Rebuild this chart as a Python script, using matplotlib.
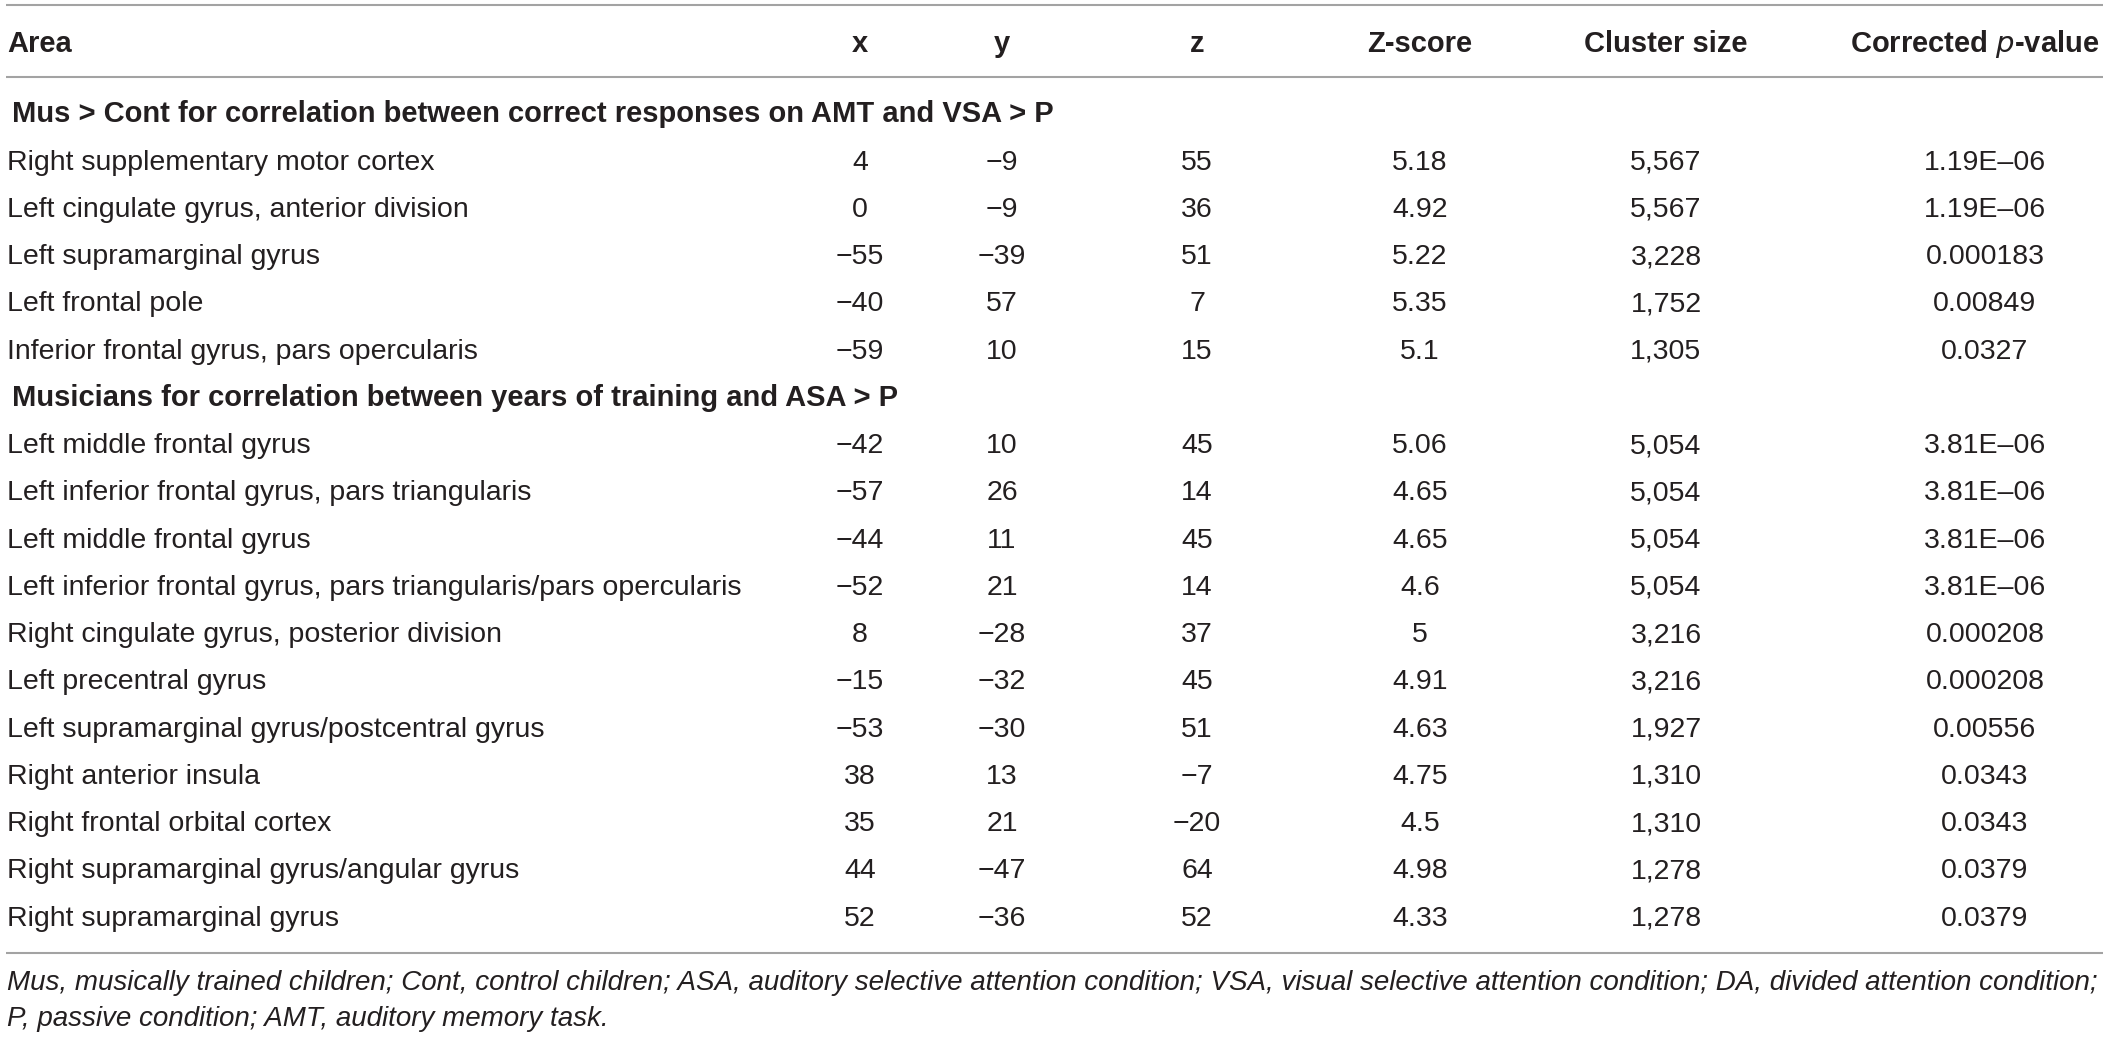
import matplotlib
matplotlib.use('Agg')
import matplotlib.pyplot as plt

# Table contents
columns = ['Area', 'x', 'y', 'z', 'Z-score', 'Cluster size', 'Corrected $\\it{p}$-value']

section_titles = [
    'Mus > Cont for correlation between correct responses on AMT and VSA > P',
    'Musicians for correlation between years of training and ASA > P',
]

areas_1 = [
    'Right supplementary motor cortex',
    'Left cingulate gyrus, anterior division',
    'Left supramarginal gyrus',
    'Left frontal pole',
    'Inferior frontal gyrus, pars opercularis',
]
x_1 = [4, 0, -55, -40, -59]
y_1 = [-9, -9, -39, 57, 10]
z_1 = [55, 36, 51, 7, 15]
zscore_1 = ['5.18', '4.92', '5.22', '5.35', '5.1']
cluster_1 = [5567, 5567, 3228, 1752, 1305]
pval_1 = ['1.19E–06', '1.19E–06', '0.000183', '0.00849', '0.0327']

areas_2 = [
    'Left middle frontal gyrus',
    'Left inferior frontal gyrus, pars triangularis',
    'Left middle frontal gyrus',
    'Left inferior frontal gyrus, pars triangularis/pars opercularis',
    'Right cingulate gyrus, posterior division',
    'Left precentral gyrus',
    'Left supramarginal gyrus/postcentral gyrus',
    'Right anterior insula',
    'Right frontal orbital cortex',
    'Right supramarginal gyrus/angular gyrus',
    'Right supramarginal gyrus',
]
x_2 = [-42, -57, -44, -52, 8, -15, -53, 38, 35, 44, 52]
y_2 = [10, 26, 11, 21, -28, -32, -30, 13, 21, -47, -36]
z_2 = [45, 14, 45, 14, 37, 45, 51, -7, -20, 64, 52]
zscore_2 = ['5.06', '4.65', '4.65', '4.6', '5', '4.91', '4.63', '4.75', '4.5', '4.98', '4.33']
cluster_2 = [5054, 5054, 5054, 5054, 3216, 3216, 1927, 1310, 1310, 1278, 1278]
pval_2 = ['3.81E–06', '3.81E–06', '3.81E–06', '3.81E–06', '0.000208', '0.000208',
          '0.00556', '0.0343', '0.0343', '0.0379', '0.0379']

footnote = [
    'Mus, musically trained children; Cont, control children; ASA, auditory selective attention condition; '
    'VSA, visual selective attention condition; DA, divided attention condition;',
    'P, passive condition; AMT, auditory memory task.',
]

# Layout (pixel units)
W, H = 2118, 1038
col_x = [7, 860, 1002, 1197, 1420, 1666, 1985]
head_x = [7, 860, 1002, 1197, 1420, 1666, 1975]
header_y = 42
first_y = 113
step = 47.24
text_color = '#231f20'
rule_color = '#a3a3a3'
size_body = 20.5
size_bold = 21.0
size_note = 20.0
font = ['Liberation Sans', 'DejaVu Sans']


def fmt_int(v):
    return str(v).replace('-', '−')


def put(x, y, s, ha='center', weight='normal', style='normal', size=size_body):
    ax.text(x, y + 9.5, s, ha=ha, va='baseline', fontsize=size, color=text_color,
            fontweight=weight, fontstyle=style, family=font)


fig = plt.figure(figsize=(W / 100, H / 100), dpi=100)
ax = fig.add_axes([0, 0, 1, 1])
ax.set_xlim(0, W)
ax.set_ylim(H, 0)
ax.axis('off')

# rules
for yy in [5, 77, 953]:
    ax.plot([6, 2103], [yy, yy], color=rule_color, lw=1.5, solid_capstyle='butt')

# header
for i, c in enumerate(columns):
    put(head_x[i], header_y, c, ha='left' if i == 0 else 'center', weight='bold', size=size_bold)

sections = [
    (areas_1, x_1, y_1, z_1, zscore_1, cluster_1, pval_1),
    (areas_2, x_2, y_2, z_2, zscore_2, cluster_2, pval_2),
]

row = 0
for title, (areas, xs, ys, zs, zsc, cl, pv) in zip(section_titles, sections):
    yy = first_y + row * step
    put(12, yy, title, ha='left', weight='bold', size=size_bold)
    row += 1
    for k in range(len(areas)):
        yy = first_y + row * step
        put(col_x[0], yy, areas[k], ha='left')
        put(col_x[1], yy, fmt_int(xs[k]))
        put(col_x[2], yy, fmt_int(ys[k]))
        put(col_x[3], yy, fmt_int(zs[k]))
        put(col_x[4], yy, zsc[k])
        put(col_x[5], yy, f'{cl[k]:,}')
        put(col_x[6], yy, pv[k])
        row += 1

# footnote
for i, line in enumerate(footnote):
    put(7, 981 + i * 35, line, ha='left', style='italic', size=size_note)

fig.savefig('out.png', dpi=100)
